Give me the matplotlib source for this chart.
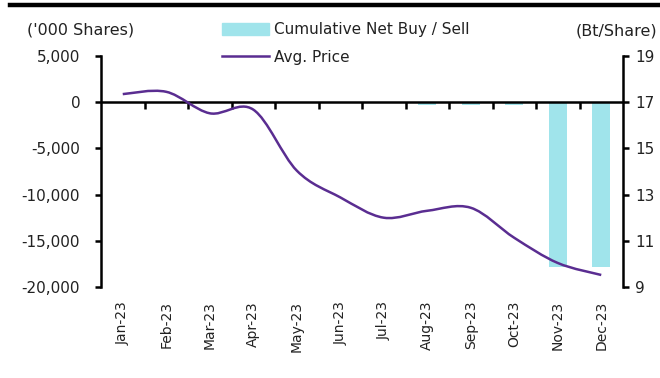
import numpy as np
import matplotlib
matplotlib.use("Agg")
from matplotlib import pyplot as plt
from matplotlib.path import Path
from matplotlib.patches import PathPatch
from matplotlib.lines import Line2D
from matplotlib.markers import TICKDOWN
from matplotlib.ticker import FuncFormatter

MONTHS = ['Jan-23', 'Feb-23', 'Mar-23', 'Apr-23', 'May-23', 'Jun-23',
          'Jul-23', 'Aug-23', 'Sep-23', 'Oct-23', 'Nov-23', 'Dec-23']
NET_BUY_SELL = [0, 0, 0, 0, 0, 0, 0, -250, -250, -350, -17850, -17850]
AVG_PRICE = [17.35, 17.45, 16.52, 16.68, 14.04, 12.88, 12.0, 12.3, 12.43, 11.13, 10.04, 9.52]

BAR_COLOR = '#A0E4EB'
LINE_COLOR = '#5A2D91'

plt.rcParams['font.family'] = ['DejaVu Sans']
plt.rcParams['font.size'] = 11
plt.rcParams['text.color'] = '#222222'


def smooth_path(xs, ys):
    # catmull-rom style bezier through every point, like a "smoothed line" in a spreadsheet
    pts = np.column_stack([xs, ys]).astype(float)
    verts = [pts[0]]
    codes = [Path.MOVETO]
    n = len(pts)
    for i in range(n - 1):
        p0 = pts[i - 1] if i > 0 else pts[i]
        p1 = pts[i]
        p2 = pts[i + 1]
        p3 = pts[i + 2] if i + 2 < n else pts[i + 1]
        c1 = p1 + (p2 - p0) / 6
        c2 = p2 - (p3 - p1) / 6
        verts += [c1, c2, p2]
        codes += [Path.CURVE4] * 3
    return Path(verts, codes)


fig = plt.figure(figsize=(6.6, 3.78), dpi=100)
ax = fig.add_axes([101 / 660, 1 - 287 / 378, (623 - 101) / 660, (287 - 56) / 378])
ax2 = ax.twinx()

x = np.arange(len(MONTHS))
ax.bar(x, NET_BUY_SELL, width=0.41, color=BAR_COLOR, zorder=2)
ax.axhline(0, color='black', lw=1.8, zorder=3)
# tick marks between months hang off the zero line
bounds = np.arange(0.5, len(MONTHS) - 0.5, 1)
ax.plot(bounds, np.zeros_like(bounds), ls='none', marker=TICKDOWN, markersize=5,
        mew=1.8, color='black', zorder=3, clip_on=False)
ax.set_xlim(-0.5, len(MONTHS) - 0.5)
ax.set_ylim(-20000, 5000)
ax.set_yticks(range(-20000, 5001, 5000))
ax.yaxis.set_major_formatter(FuncFormatter(lambda v, p: f'{int(v):,}'))

ax2.add_patch(PathPatch(smooth_path(x, AVG_PRICE), fill=False, edgecolor=LINE_COLOR, lw=1.8, zorder=4))
ax2.set_ylim(9, 19)
ax2.set_yticks(range(9, 20, 2))

for a in (ax, ax2):
    a.spines['top'].set_visible(False)
    a.spines['bottom'].set_visible(False)
    a.spines['left'].set_linewidth(1.8)
    a.spines['right'].set_linewidth(1.8)
    a.tick_params(axis='y', length=4, width=1.8, labelsize=11,
                  labelcolor='#222222')

ax.tick_params(axis='y', pad=11)
ax2.tick_params(axis='y', pad=5)
ax.spines['right'].set_visible(False)
ax2.spines['left'].set_visible(False)

ax.set_xticks(x)
ax.set_xticklabels(MONTHS, rotation=90)
ax.tick_params(axis='x', length=0, pad=10, labelsize=10, labelcolor='#222222')

fig.text(27 / 660, 1 - 30 / 378, "('000 Shares)", ha='left', va='center', fontsize=11.5)
fig.text(657 / 660, 1 - 31 / 378, "(Bt/Share)", ha='right', va='center', fontsize=11.5)

handles = [plt.Rectangle((0, 0), 1, 1, color=BAR_COLOR),
           Line2D([0], [0], color=LINE_COLOR, lw=1.8)]
fig.legend(handles, ['Cumulative Net Buy / Sell', 'Avg. Price'],
           loc='upper left', bbox_to_anchor=(222 / 660, 1 - 22 / 378),
           frameon=False, borderpad=0, borderaxespad=0, handlelength=3.05,
           handleheight=0.8, handletextpad=0.35, labelspacing=0.85, fontsize=11)

# heavy rule across the top
fig.add_artist(Line2D([10 / 660, 1], [1 - 4.5 / 378] * 2, color='black', lw=3.2))

fig.savefig('out.png', dpi=100)
